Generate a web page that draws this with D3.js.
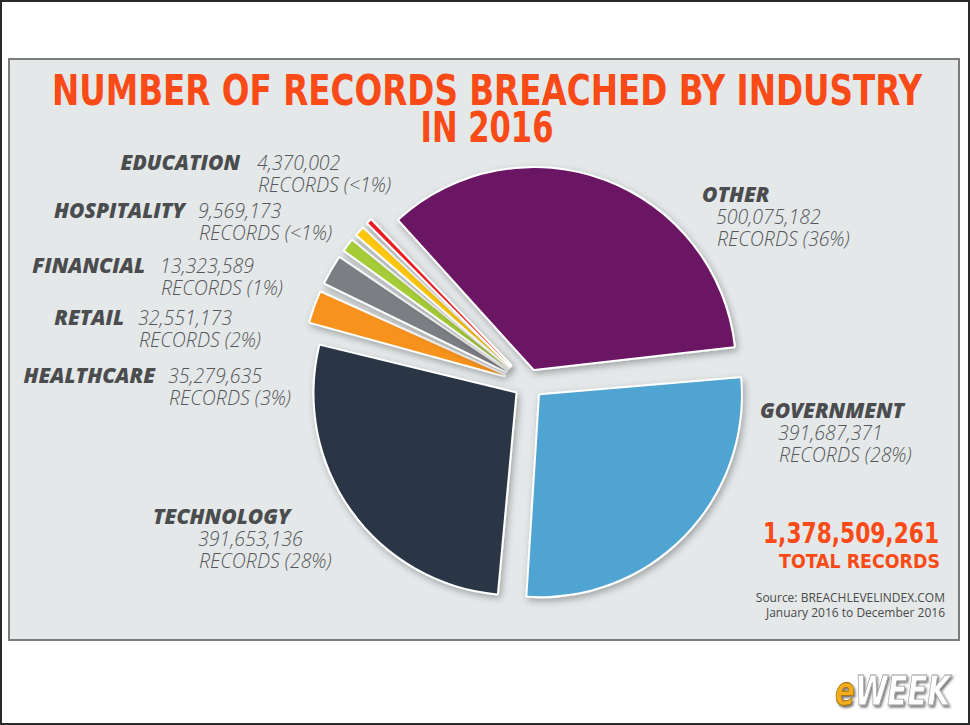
<!DOCTYPE html>
<html>
<head>
<meta charset="utf-8">
<script src="https://cdn.jsdelivr.net/npm/d3@7/dist/d3.min.js"></script>
<style>
html, body { margin: 0; padding: 0; background: #ffffff; }
</style>
</head>
<body>
<div id="canvas_breach"></div>
<script>
// ----------------------------------------------------------
// DATA -----------------------------------------------------
// ----------------------------------------------------------
var industries = ["OTHER", "GOVERNMENT", "TECHNOLOGY", "HEALTHCARE", "RETAIL", "FINANCIAL", "HOSPITALITY", "EDUCATION"];
var records = [500075182, 391687371, 391653136, 35279635, 32551173, 13323589, 9569173, 4370002];
var shareLabels = ["36%", "28%", "28%", "3%", "2%", "1%", "<1%", "<1%"];

var textTitle = ["NUMBER OF RECORDS BREACHED BY INDUSTRY", "IN 2016"];
var textTotal = "TOTAL RECORDS";
var textSource = ["Source: BREACHLEVELINDEX.COM", "January 2016 to December 2016"];

// ----------------------------------------------------------
// STYLE ----------------------------------------------------
// ----------------------------------------------------------
var style_breach = {
  width: 970,
  height: 725,
  center_x: 528.5,
  center_y: 384,
  radius: 201,
  explode_big: 16,
  explode_small: 26,
  pad: 0.03,
  start_deg: -43,
  color_panel: "#e4e8e8",
  color_panel_stroke: "#7b7b7b",
  color_title: "#fa4a17",
  color_name: "#4b4c4e",
  color_value: "#55575a",
  color_source: "#4a4a4a"
};

var sliceColors = {
  "OTHER": "#6a1463",
  "GOVERNMENT": "#4fa4d2",
  "TECHNOLOGY": "#2b3644",
  "HEALTHCARE": "#f7921c",
  "RETAIL": "#7b7e84",
  "FINANCIAL": "#a6cc38",
  "HOSPITALITY": "#fcc70d",
  "EDUCATION": "#ed1c24"
};

// label placement: name anchor / value lines start
var labelPos = {
  "EDUCATION":   { side: "left",  nx: 240, ny: 170, vx: 257, vy: 170 },
  "HOSPITALITY": { side: "left",  nx: 185, ny: 218, vx: 198, vy: 218 },
  "FINANCIAL":   { side: "left",  nx: 145, ny: 273, vx: 160, vy: 273 },
  "RETAIL":      { side: "left",  nx: 124, ny: 325, vx: 138, vy: 325 },
  "HEALTHCARE":  { side: "left",  nx: 155, ny: 383, vx: 168, vy: 383 },
  "OTHER":       { side: "top",   nx: 702, ny: 202, vx: 716, vy: 224 },
  "GOVERNMENT":  { side: "top",   nx: 760, ny: 418, vx: 778, vy: 440 },
  "TECHNOLOGY":  { side: "top",   nx: 153, ny: 524, vx: 198, vy: 546 }
};

// ----------------------------------------------------------
// STRUCTURE ------------------------------------------------
// ----------------------------------------------------------
var svg_breach = d3.select("#canvas_breach").append("svg")
  .attr("width", style_breach.width)
  .attr("height", style_breach.height)
  .style("display", "block");

var defs_breach = svg_breach.append("defs");
defs_breach.append("filter")
  .attr("id", "slice_shadow")
  .attr("x", "-20%").attr("y", "-20%")
  .attr("width", "140%").attr("height", "140%")
  .append("feDropShadow")
  .attr("dx", 2).attr("dy", 3)
  .attr("stdDeviation", 3.5)
  .attr("flood-color", "#000")
  .attr("flood-opacity", 0.3);
defs_breach.append("filter")
  .attr("id", "logo_shadow")
  .append("feDropShadow")
  .attr("dx", 1.5).attr("dy", 2)
  .attr("stdDeviation", 1.2)
  .attr("flood-color", "#000")
  .attr("flood-opacity", 0.55);

// outer frame
svg_breach.append("rect")
  .attr("x", 1).attr("y", 1)
  .attr("width", style_breach.width - 2)
  .attr("height", style_breach.height - 2)
  .style("fill", "#ffffff")
  .style("stroke", "#2a2a2a")
  .style("stroke-width", 2);

// panel
svg_breach.append("rect")
  .attr("x", 9).attr("y", 59)
  .attr("width", 950).attr("height", 581)
  .style("fill", style_breach.color_panel)
  .style("stroke", style_breach.color_panel_stroke)
  .style("stroke-width", 2);

// ----------------------------------------------------------
// GFX ------------------------------------------------------
// ----------------------------------------------------------
var pieData_breach = industries.map(function(d, i) {
  return { name: d, value: records[i], share: shareLabels[i] };
});

var startRad = style_breach.start_deg * Math.PI / 180;
var pie_breach = d3.pie()
  .sort(null)
  .value(function(d) { return d.value; })
  .startAngle(startRad)
  .endAngle(startRad + 2 * Math.PI)
  .padAngle(style_breach.pad);

var arc_breach = d3.arc()
  .innerRadius(0)
  .outerRadius(style_breach.radius);

var total_breach = d3.sum(records);

var slices_breach = svg_breach.append("g")
  .attr("class", "pie")
  .attr("transform", "translate(" + style_breach.center_x + "," + style_breach.center_y + ")");

// every slice pushed out along its bisector, the thin ones a bit further
slices_breach.selectAll("path")
  .data(pie_breach(pieData_breach))
  .enter()
  .append("path")
  .attr("d", arc_breach)
  .attr("transform", function(d) {
    var mid = (d.startAngle + d.endAngle) / 2;
    var dist = d.value / total_breach > 0.05 ? style_breach.explode_big : style_breach.explode_small;
    return "translate(" + (Math.sin(mid) * dist) + "," + (-Math.cos(mid) * dist) + ")";
  })
  .style("fill", function(d) { return sliceColors[d.data.name]; })
  .style("stroke", "#ffffff")
  .style("stroke-width", 4)
  .style("stroke-linejoin", "round")
  .style("paint-order", "stroke")
  .attr("filter", "url(#slice_shadow)");

// ----------------------------------------------------------
// TEXT -----------------------------------------------------
// ----------------------------------------------------------
var text_group_breach = svg_breach.append("g");

// title
text_group_breach.append("text")
  .attr("x", 487).attr("y", 105)
  .attr("text-anchor", "middle")
  .attr("textLength", 870)
  .attr("lengthAdjust", "spacingAndGlyphs")
  .style("font-family", "'Liberation Sans Narrow', 'DejaVu Sans Condensed', 'Liberation Sans', sans-serif")
  .style("font-weight", "bold")
  .style("font-size", "42px")
  .style("fill", style_breach.color_title)
  .text(textTitle[0]);
text_group_breach.append("text")
  .attr("x", 487).attr("y", 142)
  .attr("text-anchor", "middle")
  .attr("textLength", 133)
  .attr("lengthAdjust", "spacingAndGlyphs")
  .style("font-family", "'Liberation Sans Narrow', 'DejaVu Sans Condensed', 'Liberation Sans', sans-serif")
  .style("font-weight", "bold")
  .style("font-size", "42px")
  .style("fill", style_breach.color_title)
  .text(textTitle[1]);

// slice labels
var fmt_breach = d3.format(",");
var labels_breach = text_group_breach.selectAll(".label")
  .data(pieData_breach)
  .enter()
  .append("g")
  .attr("class", "label");

labels_breach.append("text")
  .attr("x", function(d) { return labelPos[d.name].nx; })
  .attr("y", function(d) { return labelPos[d.name].ny; })
  .attr("text-anchor", function(d) { return labelPos[d.name].side == "left" ? "end" : "start"; })
  .style("font-family", "'Open Sans', sans-serif")
  .style("font-weight", 800)
  .style("font-style", "italic")
  .style("font-size", "21px")
  .style("fill", style_breach.color_name)
  .text(function(d) { return d.name; });

labels_breach.append("text")
  .attr("x", function(d) { return labelPos[d.name].vx; })
  .attr("y", function(d) { return labelPos[d.name].vy; })
  .style("font-family", "'Open Sans', sans-serif")
  .style("font-weight", 300)
  .style("font-style", "italic")
  .style("font-size", "19.5px")
  .style("fill", style_breach.color_value)
  .text(function(d) { return fmt_breach(d.value); });

labels_breach.append("text")
  .attr("x", function(d) { return labelPos[d.name].vx + 1; })
  .attr("y", function(d) { return labelPos[d.name].vy + 22; })
  .style("font-family", "'Open Sans', sans-serif")
  .style("font-weight", 300)
  .style("font-style", "italic")
  .style("font-size", "19.5px")
  .style("fill", style_breach.color_value)
  .text(function(d) { return "RECORDS (" + d.share + ")"; });

// total
text_group_breach.append("text")
  .attr("x", 939).attr("y", 543)
  .attr("text-anchor", "end")
  .attr("textLength", 176)
  .attr("lengthAdjust", "spacingAndGlyphs")
  .style("font-family", "'Liberation Sans Narrow', 'DejaVu Sans Condensed', 'Liberation Sans', sans-serif")
  .style("font-weight", "bold")
  .style("font-size", "28px")
  .style("fill", style_breach.color_title)
  .text(fmt_breach(total_breach));
text_group_breach.append("text")
  .attr("x", 940).attr("y", 568)
  .attr("text-anchor", "end")
  .attr("textLength", 161)
  .attr("lengthAdjust", "spacingAndGlyphs")
  .style("font-family", "'Liberation Sans Narrow', 'DejaVu Sans Condensed', 'Liberation Sans', sans-serif")
  .style("font-weight", "bold")
  .style("font-size", "20px")
  .style("fill", style_breach.color_title)
  .text(textTotal);

// source
text_group_breach.selectAll(".source")
  .data(textSource)
  .enter()
  .append("text")
  .attr("class", "source")
  .attr("x", 945)
  .attr("y", function(d, i) { return 602 + i * 15; })
  .attr("text-anchor", "end")
  .style("font-family", "'Open Sans', sans-serif")
  .style("font-size", "12px")
  .style("fill", style_breach.color_source)
  .text(function(d) { return d; });

// logo
var logo_breach = svg_breach.append("text")
  .attr("x", 835).attr("y", 705)
  .attr("textLength", 115)
  .attr("lengthAdjust", "spacingAndGlyphs")
  .attr("filter", "url(#logo_shadow)")
  .style("font-family", "'DejaVu Sans', sans-serif")
  .style("font-weight", "bold")
  .style("font-style", "italic")
  .style("font-size", "40px");
logo_breach.append("tspan")
  .style("fill", "#f1ad1d")
  .style("stroke", "#9a6a08")
  .style("stroke-width", 0.8)
  .text("e");
logo_breach.append("tspan")
  .style("fill", "#ffffff")
  .style("stroke", "#9a9a9a")
  .style("stroke-width", 0.8)
  .text("WEEK");
</script>
</body>
</html>
